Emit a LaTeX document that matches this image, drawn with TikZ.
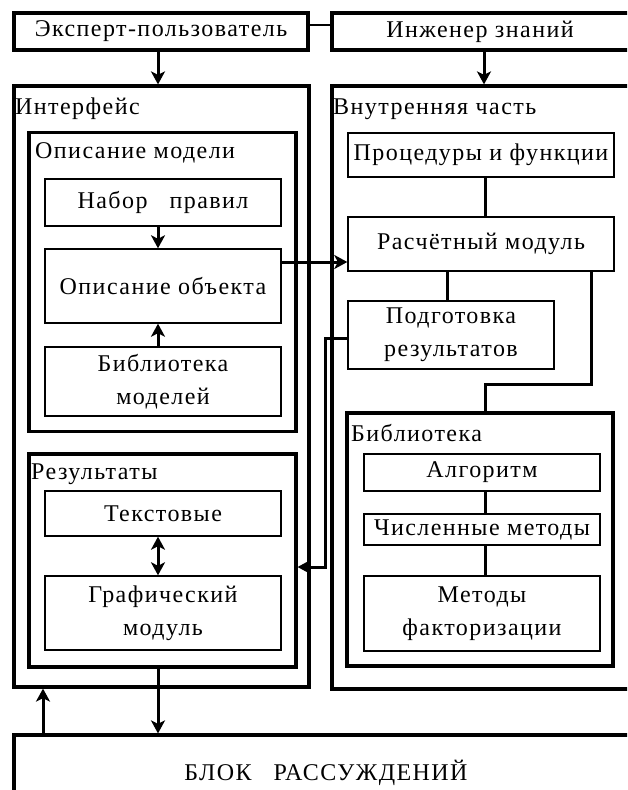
\documentclass[tikz,border=0pt]{standalone}
\usepackage{fontspec}
\setmainfont[LetterSpace=6]{Liberation Serif}
\usetikzlibrary{arrows.meta}
\begin{document}
\begin{tikzpicture}[x=1pt,y=-1pt,
  every node/.style={font=\fontsize{24}{33}\selectfont},
  bigbox/.style={draw, line width=3.2pt, inner sep=0pt, align=center},
  smallbox/.style={draw, line width=1.4pt, inner sep=0pt, align=center},
  lbl/.style={anchor=base west, inner sep=0pt},
  conn/.style={line width=3pt},
  arr/.style={line width=3pt, -{Stealth[length=13pt,width=14pt,inset=3.5pt]}},
  darr/.style={line width=3pt, {Stealth[length=13pt,width=14pt,inset=3.5pt]}-{Stealth[length=13pt,width=14pt,inset=3.5pt]}}
]
\useasboundingbox (0,0) rectangle (627,790);
\clip (0,0) rectangle (627,790);
\fill[white] (0,0) rectangle (627,790);
% top boxes
\node[bigbox, minimum width=294pt, minimum height=37pt] (expert) at (161,31.5) {Эксперт-пользователь};
\node[bigbox, minimum width=298pt, minimum height=37pt] (engbox) at (481,31.5) {};
\node[inner sep=0pt] (engtxt) at (480,31.5) {Инженер знаний};
% main containers
\node[bigbox, minimum width=295pt, minimum height=601pt] (iface) at (161.5,386.5) {};
\node[bigbox, minimum width=298pt, minimum height=603pt] (inner) at (481,387.5) {};
\node[lbl] (ifacelbl) at (15,114) {Интерфейс};
\node[lbl] (innerlbl) at (333,114) {Внутренняя часть};
% model description
\node[bigbox, minimum width=267pt, minimum height=299pt] (opmodel) at (162.5,282) {};
\node[lbl] (opmodellbl) at (35,158) {Описание модели};
\node[smallbox, minimum width=236pt, minimum height=47pt] (rules) at (163,202.5) {Набор\hspace{22pt}правил};
\node[smallbox, minimum width=236pt, minimum height=74pt] (object) at (163,286) {Описание объекта};
\node[smallbox, minimum width=236pt, minimum height=69pt] (libmod) at (163,381.5) {Библиотека\\моделей};
% results
\node[bigbox, minimum width=267pt, minimum height=213pt] (results) at (162.5,560.5) {};
\node[lbl] (resultslbl) at (31,479) {Результаты};
\node[smallbox, minimum width=236pt, minimum height=45pt] (textb) at (163,513.5) {Текстовые};
\node[smallbox, minimum width=236pt, minimum height=74pt] (graph) at (163,613) {Графический\\модуль};
% internal part
\node[smallbox, minimum width=266pt, minimum height=44pt] (proc) at (481,155) {Процедуры и функции};
\node[smallbox, minimum width=266pt, minimum height=54pt] (calc) at (481,244) {Расчётный модуль};
\node[smallbox, minimum width=206pt, minimum height=68pt] (prep) at (451,335) {Подготовка\\результатов};
\node[bigbox, minimum width=266pt, minimum height=253pt] (lib) at (480,539.5) {};
\node[lbl] (liblbl) at (351,441) {Библиотека};
\node[smallbox, minimum width=236pt, minimum height=37pt] (alg) at (482,472.5) {Алгоритм};
\node[smallbox, minimum width=236pt, minimum height=31pt] (num) at (482,529.5) {Численные методы};
\node[smallbox, minimum width=236pt, minimum height=75pt] (fact) at (482,613.5) {Методы\\факторизации};
% reasoning block
\node[bigbox, minimum width=626pt, minimum height=80pt] (block) at (327,775) {};
\node[inner sep=0pt] (blocktxt) at (326,773) {БЛОК\hspace{22pt}РАССУЖДЕНИЙ};
% connectors
\draw[line width=1.5pt] (expert.east |- 0,25) -- (engbox.west |- 0,25);
\draw[arr] (expert.south -| 158,0) -- (iface.north -| 158,0);
\draw[arr] (engbox.south -| 484,0) -- (inner.north -| 484,0);
\draw[arr] (rules.south -| 158,0) -- (object.north -| 158,0);
\draw[arr] (libmod.north -| 158,0) -- (object.south -| 158,0);
\draw[arr] (object.east |- 0,262) -- (calc.west |- 0,262);
\draw[conn] (proc.south -| 485,0) -- (calc.north -| 485,0);
\draw[conn] (calc.south -| 447,0) -- (prep.north -| 447,0);
\draw[conn] (calc.south -| 591,0) -- (591,384) -- (485,384) -- (lib.north -| 485,0);
\draw[arr] (prep.west |- 0,338) -- (325,338) -- (325,567) -- (results.east |- 0,567);
\draw[darr] (textb.south -| 158,0) -- (graph.north -| 158,0);
\draw[conn] (alg.south -| 485,0) -- (num.north -| 485,0);
\draw[conn] (num.south -| 485,0) -- (fact.north -| 485,0);
\draw[arr] (results.south -| 158,0) -- (block.north -| 158,0);
\draw[arr] (block.north -| 43,0) -- (iface.south -| 43,0);
\end{tikzpicture}
\end{document}
